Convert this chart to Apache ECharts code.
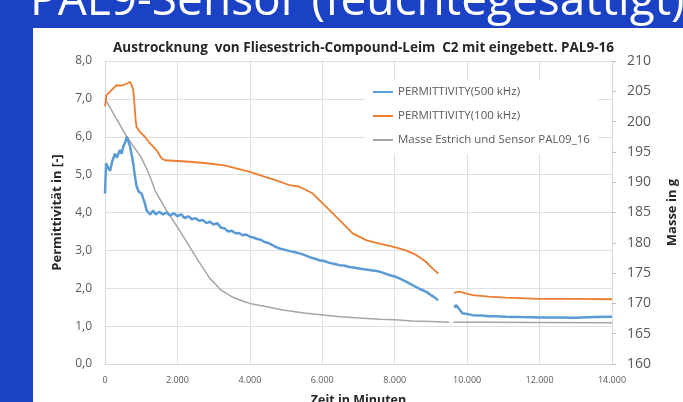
<!DOCTYPE html>
<html>
<head>
<meta charset="utf-8">
<script src="https://cdn.jsdelivr.net/npm/echarts@6/dist/echarts.min.js"></script>
<style>
html,body{margin:0;padding:0;background:#1b41c4;}
#c{width:683px;height:402px;}
</style>
</head>
<body>
<div id="c"></div>
<script>
// ---- data (time in minutes) ----
const blueTime = [0,30,80,140,200,275,330,410,460,505,560,600,640,690,740,780,820,870,930,1010,1060,1100,1150,1200,1250,1330,1400,1500,1600,1700,1800,1900,2000,2100,2200,2300,2400,2500,2600,2700,2800,2900,3000,3100,3200,3300,3400,3500,3600,3700,3800,3900,4000,4100,4200,4300,4400,4500,4600,4700,4820,4950,5100,5250,5370,5500,5650,5800,5920,6050,6200,6350,6470,6600,6750,6900,7020,7150,7300,7450,7580,7700,7850,8000,8130,8300,8490,8700,8860,9000,9100,9200,9400,9640,9700,9780,9870,10000,10150,10400,10600,10800,11070,11500,12000,12500,13000,13500,14000];
const blueVal  = [4.5,5.3,5.2,5.1,5.35,5.55,5.45,5.65,5.55,5.75,5.85,6.0,5.9,5.75,5.5,5.3,5.0,4.7,4.55,4.5,4.35,4.25,4.05,4.1,3.95,4.05,3.95,4.02,3.95,4.0,3.92,3.98,3.9,3.95,3.85,3.9,3.82,3.85,3.78,3.8,3.72,3.76,3.68,3.72,3.6,3.58,3.5,3.52,3.45,3.46,3.4,3.42,3.36,3.34,3.3,3.28,3.22,3.2,3.15,3.1,3.05,3.02,2.98,2.95,2.92,2.88,2.82,2.78,2.74,2.72,2.67,2.64,2.61,2.6,2.56,2.54,2.52,2.5,2.48,2.46,2.44,2.4,2.35,2.31,2.26,2.18,2.08,1.98,1.91,1.82,1.76,1.68,null,1.5,1.55,1.45,1.34,1.32,1.29,1.28,1.26,1.26,1.25,1.24,1.23,1.23,1.22,1.24,1.25];

const orangeTime = [0,40,100,200,320,450,600,690,740,780,810,826,850,870,964,1100,1240,1420,1560,1650,2000,2340,2800,3250,3600,4000,4400,4730,5100,5370,5740,6010,6380,6840,7210,7580,7940,8310,8590,8860,9050,9200,9400,9640,9700,9780,10150,10600,11070,11980,12900,14000];
const orangeVal  = [6.8,7.1,7.15,7.25,7.36,7.35,7.4,7.45,7.35,7.23,6.9,6.7,6.4,6.26,6.13,6.0,5.83,5.65,5.43,5.38,5.36,5.34,5.3,5.25,5.17,5.07,4.95,4.85,4.72,4.68,4.5,4.24,3.89,3.45,3.27,3.18,3.1,3.0,2.88,2.7,2.52,2.39,null,1.87,1.9,1.91,1.82,1.78,1.75,1.72,1.72,1.71];

const massTime = [0,300,600,1000,1200,1400,1700,2000,2300,2600,2900,3200,3500,3800,4000,4500,4910,5500,6010,6500,7020,7580,8000,8490,9000,9500,9560,9620,10500,12000,14000];
const massVal  = [203.8,200.6,197.5,194.1,191.6,188.4,185.3,182.6,179.7,176.8,174.1,172.2,171.1,170.4,170.0,169.4,168.9,168.4,168.1,167.8,167.6,167.4,167.3,167.1,167.0,166.9,null,166.9,166.9,166.85,166.8];

const seriesNames = ['PERMITTIVITY(500 kHz)','PERMITTIVITY(100 kHz)','Masse Estrich und Sensor PAL09_16'];
const chartTitle = 'Austrocknung  von Fliesestrich-Compound-Leim  C2 mit eingebett. PAL9-16';
const slideTitle = 'PAL9-Sensor (feuchtegesättigt)';

function pairs(t, v){ return t.map((x,i)=>[x, v[i]===null ? '-' : v[i]]); }
function thousands(v){ return String(v).replace(/\B(?=(\d{3})+(?!\d))/g,'.'); }

const FONT = '"Open Sans", "Liberation Sans", sans-serif';
const chart = echarts.init(document.getElementById('c'), null, {renderer:'canvas'});
chart.setOption({
  backgroundColor: '#1b41c4',
  animation: false,
  textStyle: {fontFamily: FONT},
  graphic: [
    {type:'rect', z:-10, shape:{x:33,y:28,width:650,height:374}, style:{fill:'#ffffff'}},
    {type:'text', z:10, left:30, top:-21, style:{text:slideTitle, fill:'#ffffff', font:'46px "Open Sans", sans-serif'}}
  ],
  title: {
    text: chartTitle, left: 108, top: 36,
    textStyle:{fontSize:13.5, fontWeight:'bold', color:'#262626', fontFamily:'"Liberation Sans Narrow","Open Sans",sans-serif'}
  },
  legend: {
    orient:'vertical', left:365, top:80, padding:[6,8,8,8],
    backgroundColor:'#ffffff', itemWidth:20, itemHeight:2, itemGap:12, icon:'rect',
    textStyle:{fontSize:11.5, color:'#595959'},
    data: seriesNames
  },
  grid: {left:105, right:71, top:61, bottom:38, containLabel:false, outerBoundsMode:'none'},
  xAxis: {
    type:'value', min:0, max:14000, interval:2000,
    name:'Zeit in Minuten', nameLocation:'middle', nameGap:30,
    nameTextStyle:{fontSize:12.5, fontWeight:'bold', color:'#262626'},
    axisLine:{show:true, lineStyle:{color:'#d9d9d9'}},
    axisTick:{show:false},
    axisLabel:{fontSize:9, color:'#595959', margin:12, formatter:v=>thousands(v)},
    splitLine:{show:true, lineStyle:{color:'#e0e0e0'}}
  },
  yAxis: [
    {
      type:'value', min:0, max:8, interval:1, position:'left',
      name:'Permittivität in [-]', nameLocation:'middle', nameGap:40,
      nameTextStyle:{fontSize:13, fontWeight:'bold', color:'#262626'},
      axisLine:{show:true, lineStyle:{color:'#d9d9d9'}},
      axisTick:{show:false},
      axisLabel:{fontSize:12, color:'#595959', margin:13, formatter:v=>v.toFixed(1).replace('.',',')},
      splitLine:{show:true, lineStyle:{color:'#e0e0e0'}}
    },
    {
      type:'value', min:160, max:210, interval:5, position:'right',
      name:'Masse in g', nameLocation:'middle', nameGap:54,
      nameTextStyle:{fontSize:13, fontWeight:'bold', color:'#262626'},
      axisLine:{show:true, lineStyle:{color:'#d9d9d9'}},
      axisTick:{show:true, length:4, lineStyle:{color:'#bfbfbf'}},
      axisLabel:{fontSize:14, color:'#595959', margin:15},
      splitLine:{show:false}
    }
  ],
  series: [
    {name:seriesNames[0], type:'line', yAxisIndex:0, data:pairs(blueTime, blueVal), showSymbol:false, connectNulls:false,
      lineStyle:{color:'#5b9bd5', width:2.5}, itemStyle:{color:'#5b9bd5'}, z:3},
    {name:seriesNames[1], type:'line', yAxisIndex:0, data:pairs(orangeTime, orangeVal), showSymbol:false, connectNulls:false,
      lineStyle:{color:'#ed7d31', width:1.8}, itemStyle:{color:'#ed7d31'}, z:4},
    {name:seriesNames[2], type:'line', yAxisIndex:1, data:pairs(massTime, massVal), showSymbol:false, connectNulls:false,
      smooth:false,
      lineStyle:{color:'#a5a5a5', width:1.5}, itemStyle:{color:'#a5a5a5'}, z:2}
  ]
});
</script>
</body>
</html>
